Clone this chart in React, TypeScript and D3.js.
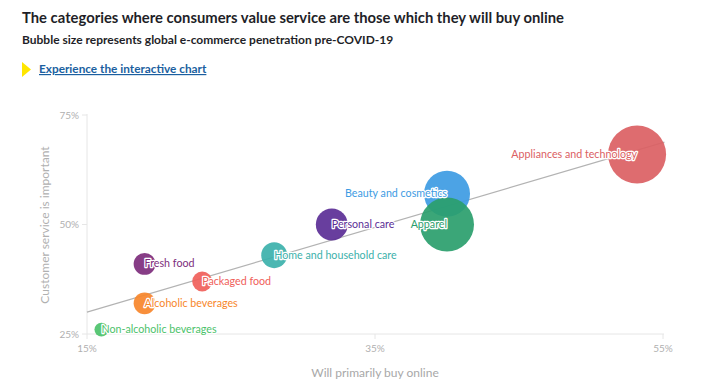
import * as d3 from "d3";

const categories = [
  "Non-alcoholic beverages",
  "Alcoholic beverages",
  "Fresh food",
  "Packaged food",
  "Home and household care",
  "Personal care",
  "Beauty and cosmetics",
  "Apparel",
  "Appliances and technology",
];
const buyOnline = [16, 19, 19, 23, 28, 32, 40, 40, 53.2];
const serviceImportant = [26, 32, 41, 37, 43, 50, 57, 50, 66];
const penetration = [1.9, 4.7, 4.7, 3.9, 6.6, 10, 20.8, 28.6, 33];
const colors = [
  "#4cc26a",
  "#f7862a",
  "#7d2d7c",
  "#f0605a",
  "#3cb1ab",
  "#5b2e96",
  "#3d9be3",
  "#2a9e6c",
  "#db6063",
];
const xTicks = [15, 35, 55];
const yTicks = [25, 50, 75];
const trendX = [15, 55.1];
const trendY = [30, 68.8];

const W = 728;
const H = 392;
const font = "Lato, 'Open Sans', sans-serif";

export default function App() {
  const x = d3.scaleLinear().domain([15, 55]).range([87, 663]);
  const y = d3.scaleLinear().domain([25, 75]).range([334, 115]);
  const r = d3.scaleSqrt().domain([0, 33]).range([0, 29]);
  const line = d3
    .line<number>()
    .x((d) => x(d))
    .y((_, i) => y(trendY[i]));

  const order = d3.range(categories.length);

  return (
    <div style={{ position: "absolute", left: 0, top: 0 }}>
      <svg width={W} height={H} style={{ display: "block", background: "#fff" }}>
        {/* header */}
        <text x={22} y={23} fontFamily={font} fontSize={14.8} fontWeight={700} fill="#1f1f28">
          The categories where consumers value service are those which they will buy online
        </text>
        <text x={22} y={44} fontFamily={font} fontSize={12} fontWeight={700} fill="#1f1f28">
          Bubble size represents global e-commerce penetration pre-COVID-19
        </text>
        <path d="M22,62 L31,69.5 L22,77 Z" fill="#ffe600" />
        <text
          x={39}
          y={73}
          fontFamily={font}
          fontSize={11.8}
          fontWeight={700}
          fill="#1b5fa0"
          textDecoration="underline"
        >
          Experience the interactive chart
        </text>

        {/* axes */}
        <line x1={87} x2={87} y1={114} y2={334} stroke="#e6e6e6" />
        <line x1={87} x2={664} y1={334} y2={334} stroke="#e6e6e6" />
        {xTicks.map((t) => (
          <g key={t}>
            <line x1={x(t)} x2={x(t)} y1={334} y2={339} stroke="#e6e6e6" />
            <text
              x={x(t)}
              y={352}
              textAnchor="middle"
              fontFamily={font}
              fontSize={10}
              fill="#b0b0b0"
            >
              {t}%
            </text>
          </g>
        ))}
        {yTicks.map((t) => (
          <g key={t}>
            <line x1={82} x2={87} y1={y(t)} y2={y(t)} stroke="#e6e6e6" />
            <text
              x={79}
              y={y(t) + 3.5}
              textAnchor="end"
              fontFamily={font}
              fontSize={10}
              fill="#b0b0b0"
            >
              {t}%
            </text>
          </g>
        ))}
        <text
          x={375}
          y={377}
          textAnchor="middle"
          fontFamily={font}
          fontSize={12}
          fill="#a8a8a8"
        >
          Will primarily buy online
        </text>
        <text
          transform={`translate(49,225) rotate(-90)`}
          textAnchor="middle"
          fontFamily={font}
          fontSize={12}
          fill="#b0b0b0"
        >
          Customer service is important
        </text>

        {/* trend line */}
        <path d={line(trendX) ?? ""} fill="none" stroke="#b3b3b3" strokeWidth={1.2} />

        {/* bubbles */}
        {order.map((i) => (
          <circle
            key={categories[i]}
            cx={x(buyOnline[i])}
            cy={y(serviceImportant[i])}
            r={r(penetration[i])}
            fill={colors[i]}
            fillOpacity={0.92}
          />
        ))}

        {/* labels */}
        {order.map((i) => {
          const right = buyOnline[i] >= 38;
          return (
            <text
              key={categories[i]}
              x={x(buyOnline[i])}
              y={y(serviceImportant[i]) + 3.5}
              textAnchor={right ? "end" : "start"}
              fontFamily={font}
              fontSize={10.7}
              fill={colors[i]}
              stroke="#fff"
              strokeWidth={2.5}
              strokeLinejoin="round"
              paintOrder="stroke"
            >
              {categories[i]}
            </text>
          );
        })}
      </svg>
    </div>
  );
}
